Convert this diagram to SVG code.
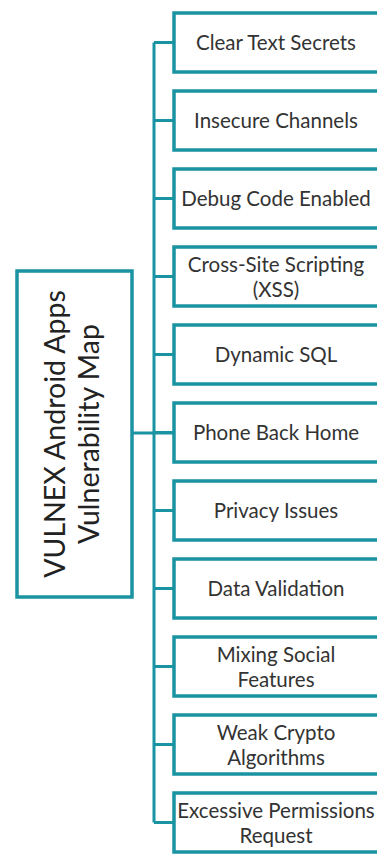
<svg xmlns="http://www.w3.org/2000/svg" width="377" height="855" viewBox="0 0 377 855">
<style>
.box{fill:#fff;stroke:#1a93a3;stroke-width:3.5}
.ln{stroke:#1a93a3;stroke-width:3;fill:none}
.t{font-family:Lato,"Open Sans",sans-serif;font-size:20.5px;fill:#333;text-anchor:middle}
.m{font-family:Lato,"Open Sans",sans-serif;font-size:28.5px;fill:#222;text-anchor:middle}
</style>
<rect width="377" height="855" fill="#fff"/>
<g id="connectors">
<path class="ln" d="M154 42.5V822.5M132 433H174"/>
<path class="ln" d="M154 42.5H174M154 120.5H174M154 198.5H174M154 276.5H174M154 354.5H174M154 432.5H174M154 510.5H174M154 588.5H174M154 666.5H174M154 744.5H174M154 822.5H174"/>
</g>
<g id="root"><rect class="box" x="17" y="271" width="115" height="326"/>
<text class="m" transform="translate(65 434) rotate(-90)">VULNEX Android Apps</text>
<text class="m" transform="translate(99 434) rotate(-90)">Vulnerability Map</text></g>
<g id="n1"><rect class="box" x="174" y="13" width="206" height="59"/><text class="t" x="276" y="49.5">Clear Text Secrets</text></g>
<g id="n2"><rect class="box" x="174" y="91" width="206" height="59"/><text class="t" x="276" y="127.5">Insecure Channels</text></g>
<g id="n3"><rect class="box" x="174" y="169" width="206" height="59"/><text class="t" x="276" y="205.5">Debug Code Enabled</text></g>
<g id="n4"><rect class="box" x="174" y="247" width="206" height="59"/><text class="t" x="276" y="271.5">Cross-Site Scripting</text><text class="t" x="276" y="296.5">(XSS)</text></g>
<g id="n5"><rect class="box" x="174" y="325" width="206" height="59"/><text class="t" x="276" y="361.5">Dynamic SQL</text></g>
<g id="n6"><rect class="box" x="174" y="403" width="206" height="59"/><text class="t" x="276" y="439.5">Phone Back Home</text></g>
<g id="n7"><rect class="box" x="174" y="481" width="206" height="59"/><text class="t" x="276" y="517.5">Privacy Issues</text></g>
<g id="n8"><rect class="box" x="174" y="559" width="206" height="59"/><text class="t" x="276" y="595.5">Data Validation</text></g>
<g id="n9"><rect class="box" x="174" y="637" width="206" height="59"/><text class="t" x="276" y="661.5">Mixing Social</text><text class="t" x="276" y="686.5">Features</text></g>
<g id="n10"><rect class="box" x="174" y="715" width="206" height="59"/><text class="t" x="276" y="739.5">Weak Crypto</text><text class="t" x="276" y="764.5">Algorithms</text></g>
<g id="n11"><rect class="box" x="174" y="793" width="206" height="59"/><text class="t" x="276" y="817.5">Excessive Permissions</text><text class="t" x="276" y="842.5">Request</text></g>
</svg>
